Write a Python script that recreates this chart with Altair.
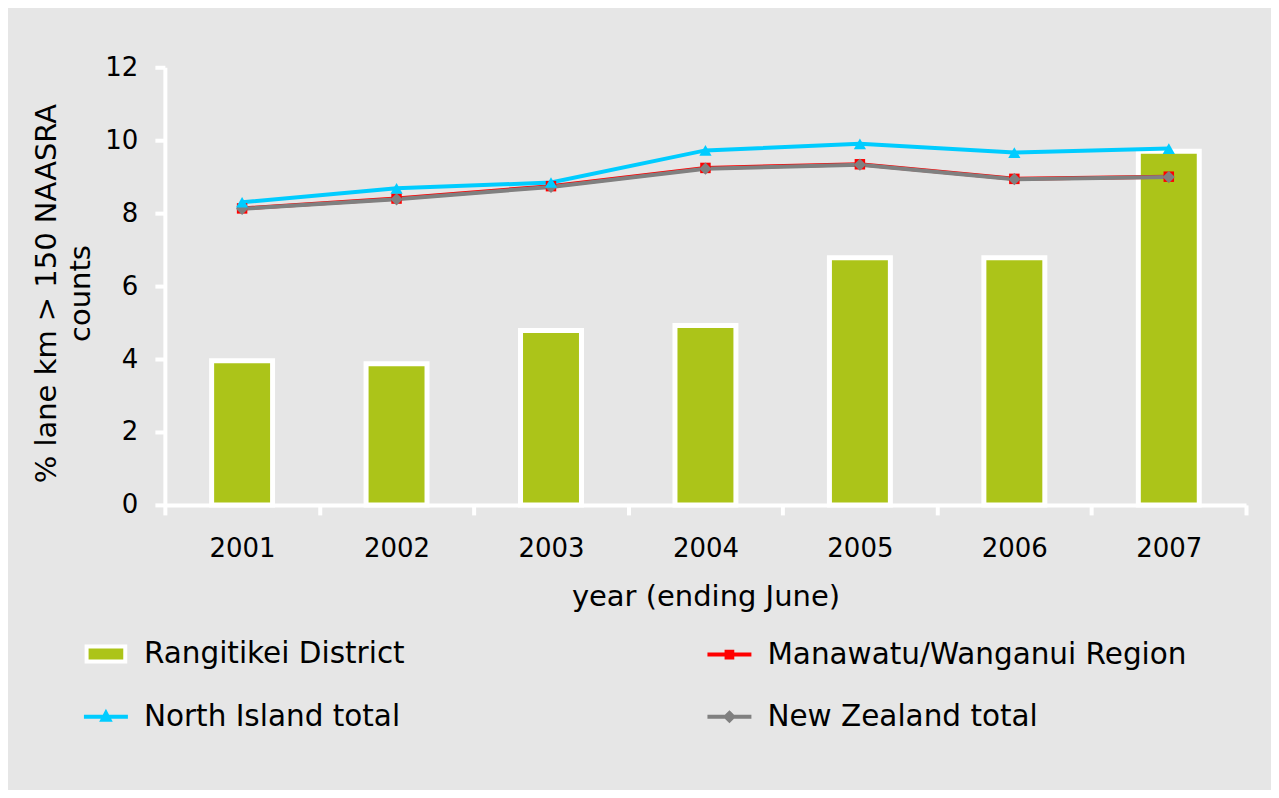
import altair as alt
import pandas as pd

# ---- data ----
years = ["2001", "2002", "2003", "2004", "2005", "2006", "2007"]
rangitikei = [3.95, 3.87, 4.78, 4.92, 6.78, 6.78, 9.70]
manawatu = [8.13, 8.40, 8.74, 9.24, 9.34, 8.94, 9.00]
north_island = [8.30, 8.68, 8.84, 9.72, 9.90, 9.66, 9.77]
new_zealand = [8.12, 8.38, 8.72, 9.22, 9.33, 8.93, 8.99]

series_names = [
    "Rangitikei District",
    "Manawatu/Wanganui Region",
    "North Island total",
    "New Zealand total",
]
# legend order (two columns, filled column by column)
legend_order = [
    "Rangitikei District",
    "North Island total",
    "Manawatu/Wanganui Region",
    "New Zealand total",
]
y_ticks = [0, 2, 4, 6, 8, 10, 12]

GREEN = "#acc419"
RED = "#ff0000"
CYAN = "#00ccff"
GREY = "#808080"
BG = "#e6e6e6"
FONT = "DejaVu Sans"

rows = []
for name, vals in zip(series_names, [rangitikei, manawatu, north_island, new_zealand]):
    for yr, v in zip(years, vals):
        rows.append({"series": name, "year": yr, "value": v})
df = pd.DataFrame(rows)

x_enc = alt.X(
    "year:O",
    title="year (ending June)",
    scale=alt.Scale(type="band", paddingInner=0, paddingOuter=0),
    axis=alt.Axis(
        labelAngle=0,
        domainColor="white",
        domainWidth=4,
        tickColor="white",
        tickWidth=4,
        tickSize=10,
        tickBand="extent",
        labelPadding=21,
        titlePadding=21,
        grid=False,
        zindex=1,
    ),
)
y_enc = alt.Y(
    "value:Q",
    title=["% lane km > 150 NAASRA", "counts"],
    scale=alt.Scale(domain=[0, 12], nice=False),
    axis=alt.Axis(
        values=y_ticks,
        domainColor="white",
        domainWidth=4,
        tickColor="white",
        tickWidth=4,
        tickSize=10,
        labelPadding=17,
        grid=False,
        zindex=1,
        titleAngle=-90,
        titleX=-118,
        titleY=226,
        titleAlign="center",
        titleBaseline="middle",
        titleLineHeight=34,
    ),
)

base = alt.Chart(df).encode(x=x_enc, y=y_enc)

bars = base.mark_bar(size=61, fill=GREEN, stroke="white", strokeWidth=5, opacity=1).transform_filter(
    alt.datum.series == series_names[0]
)

def line_layer(name, color):
    return base.mark_line(stroke=color, strokeWidth=4, opacity=1).transform_filter(
        alt.datum.series == name
    )

def point_layer(name, color, shape, size):
    return base.mark_point(
        filled=True, fill=color, shape=shape, size=size, opacity=1, strokeWidth=0
    ).transform_filter(alt.datum.series == name)

# legend (driven by scales, no marks drawn)
bar_path = "M-0.88,-0.34L0.88,-0.34L0.88,0.34L-0.88,0.34Z"
sq_path = "M-1,0L1,0M-0.13,-0.13L0.13,-0.13L0.13,0.13L-0.13,0.13Z"
tri_path = "M-1,0L1,0M-0.16,0.14L0,-0.17L0.16,0.14Z"
dia_path = "M-1,0L1,0M0,-0.17L0.17,0L0,0.17L-0.17,0Z"

fill_scale = alt.Scale(domain=legend_order, range=[GREEN, CYAN, RED, GREY])
stroke_scale = alt.Scale(domain=legend_order, range=["white", CYAN, RED, GREY])
shape_scale = alt.Scale(domain=legend_order, range=[bar_path, tri_path, sq_path, dia_path])

legend_obj = alt.Legend(
    title=None,
    orient="none",
    legendX=-83,
    legendY=563,
    columns=2,
    columnPadding=294,
    rowPadding=23,
    padding=0,
    symbolSize=1936,
    symbolStrokeWidth=4,
    symbolFillColor=GREEN,
    symbolStrokeColor="white",
    labelFont=FONT,
    labelFontSize=29.5,
    labelColor="black",
    labelOffset=14,
    labelLimit=600,
)

legend_df = pd.DataFrame({"series": legend_order})
legend_layer = (
    alt.Chart(legend_df)
    .mark_point(filled=True, opacity=1)
    .encode(
        fill=alt.Fill("series:N", scale=fill_scale, legend=legend_obj),
        stroke=alt.Stroke("series:N", scale=stroke_scale, legend=legend_obj),
        shape=alt.Shape("series:N", scale=shape_scale, legend=legend_obj),
    )
    .transform_filter("false")
)

chart = (
    alt.layer(
        bars,
        line_layer(series_names[1], RED),
        line_layer(series_names[3], GREY),
        line_layer(series_names[2], CYAN),
        point_layer(series_names[1], RED, "square", 110),
        point_layer(series_names[3], GREY, "diamond", 150),
        point_layer(series_names[2], CYAN, "triangle-up", 150),
        legend_layer,
    )
    .properties(
        width=1082,
        height=438,
        padding={"left": 157, "top": 59, "right": 25, "bottom": 285},
        autosize=alt.AutoSizeParams(type="none"),
        background=BG,
    )
    .configure_view(stroke=None)
    .configure_axis(
        labelFont=FONT,
        labelFontSize=26,
        labelColor="black",
        titleFont=FONT,
        titleFontSize=29,
        titleFontWeight="normal",
        titleColor="black",
    )
)

chart.save("out.html", embed_options={"renderer": "svg", "actions": False})
